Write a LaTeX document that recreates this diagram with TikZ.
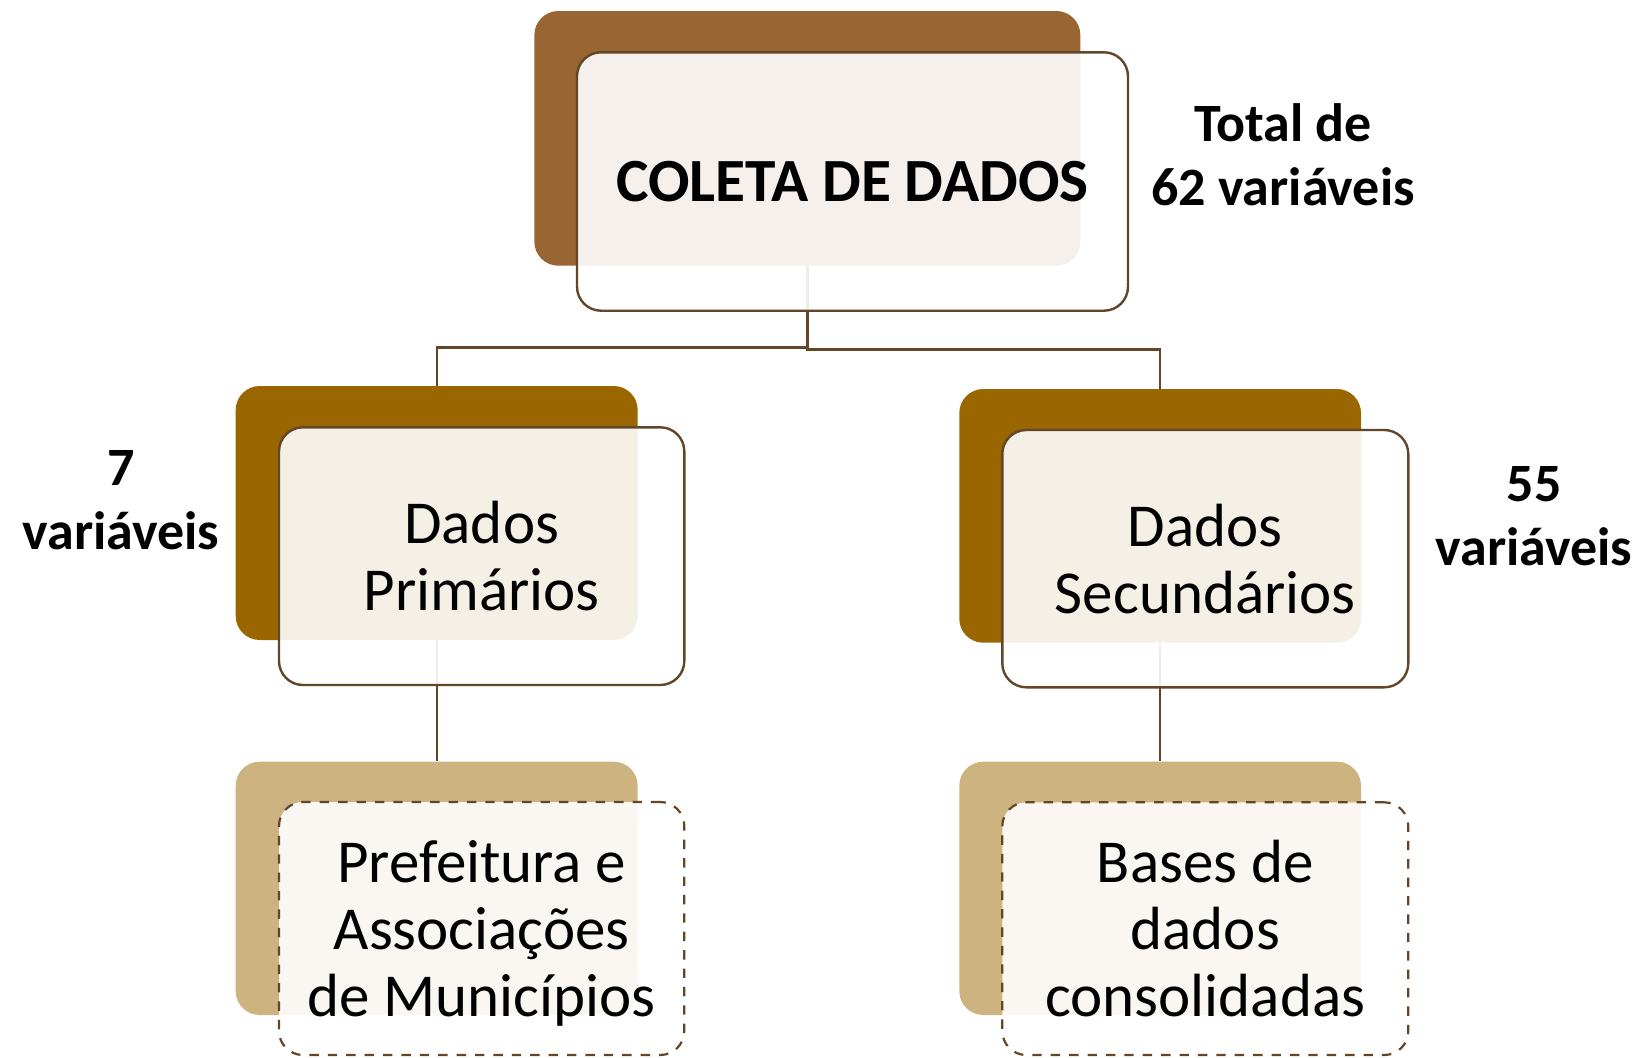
\documentclass[tikz,border=0pt]{standalone}
\usepackage{fontspec}
\setmainfont{Carlito}
\usetikzlibrary{backgrounds}
\definecolor{topbrown}{RGB}{153,102,51}
\definecolor{midbrown}{RGB}{153,102,0}
\definecolor{tanc}{RGB}{204,179,128}
\definecolor{linec}{RGB}{99,70,40}
\begin{document}
\begin{tikzpicture}[x=0.5pt,y=-0.5pt,
  backbox/.style={rectangle, rounded corners=12pt, inner sep=0pt},
  frontbox/.style={rectangle, rounded corners=12pt, draw=linec, line width=1.2pt,
    fill=white, fill opacity=0.9, text opacity=1, inner sep=0pt, align=center,
    font=\fontsize{30.5}{33.5}\selectfont},
  dashbox/.style={frontbox, line width=1.1pt, dash pattern=on 4.7pt off 4.5pt},
  sidelabel/.style={inner sep=0pt, align=center, font=\fontsize{27}{32}\selectfont\bfseries},
  conn/.style={draw=linec, line width=1.2pt}
]
\useasboundingbox (0,0) rectangle (1646,1057);

% top
\node[backbox, fill=topbrown, minimum width=273pt, minimum height=127.35pt] (tb) at (807.35,138.35) {};
\node[frontbox, minimum width=275.5pt, minimum height=129.2pt,
  font=\fontsize{30.7}{37}\selectfont\bfseries] (tf) at (852.5,181.5) {COLETA DE DADOS};

% middle left
\node[backbox, fill=midbrown, minimum width=201pt, minimum height=127pt] (ml) at (436.7,513) {};
\node[frontbox, minimum width=202.65pt, minimum height=128.85pt] (mlf) at (481.65,556.15) {Dados\\Primários};

% middle right
\node[backbox, fill=midbrown, minimum width=200.85pt, minimum height=126.85pt] (mr) at (1160.15,515.85) {};
\node[frontbox, minimum width=203pt, minimum height=128.65pt] (mrf) at (1205.3,558.65) {Dados\\Secundários};

% bottom left
\node[backbox, fill=tanc, minimum width=201pt, minimum height=126.65pt] (bl) at (436.7,888.35) {};
\node[dashbox, minimum width=202.65pt, minimum height=126.5pt, text depth=0pt] (blf) at (481.65,928.5) {Prefeitura e\\Associações\\de Municípios};

% bottom right
\node[backbox, fill=tanc, minimum width=200.85pt, minimum height=126.65pt] (br) at (1160.15,888.35) {};
\node[dashbox, minimum width=203pt, minimum height=126.35pt] (brf) at (1205.3,928.65) {Bases de\\dados\\consolidadas};

% side labels
\node[sidelabel] (total) at (1283,155) {Total de\\62 variáveis};
\node[sidelabel] (sete) at (121,500) {7\\variáveis};
\node[sidelabel] (cinq) at (1534,516) {55\\variáveis};

% connectors
\coordinate (jl) at (807.35,347.5);
\coordinate (jr) at (807.35,349.5);
\begin{scope}[on background layer]
\draw[conn] (tb.south) -- (jr) -| (mr.north);
\draw[conn] (jl) -| (ml.north);
\draw[conn] (ml.south) -- (bl.north);
\draw[conn] (mr.south) -- (br.north);
\end{scope}
\end{tikzpicture}
\end{document}
